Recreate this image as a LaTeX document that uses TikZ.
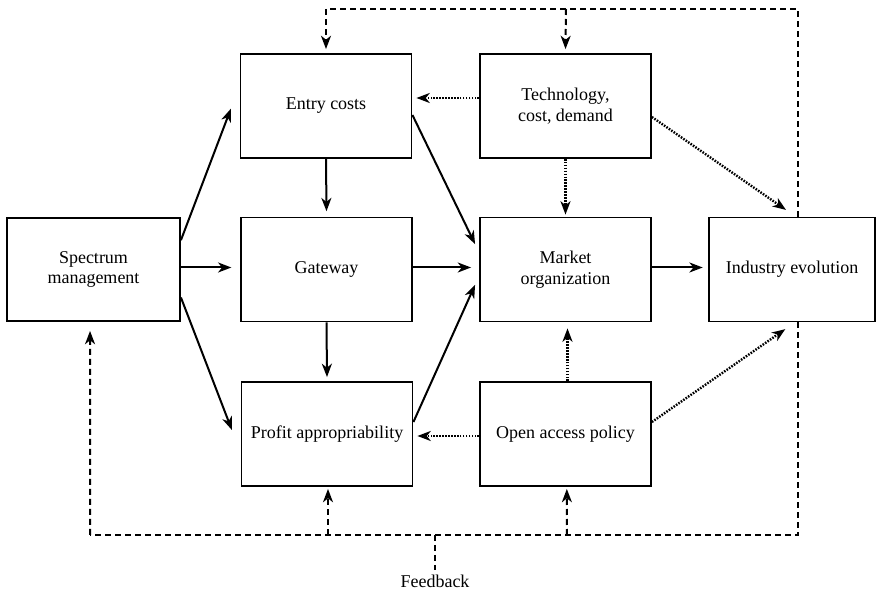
\documentclass[tikz,border=0pt]{standalone}
\usepackage{fontspec}
\setmainfont{Liberation Serif}
\usetikzlibrary{arrows.meta}
\begin{document}
\begin{tikzpicture}[x=0.75pt,y=-0.75pt,
  >={Stealth[length=10pt,width=7.5pt,inset=3pt]},
  box/.style={draw, line width=1.4pt, rectangle, inner sep=0pt, align=center,
    minimum width=128.25pt, minimum height=78pt,
    font=\fontsize{13.5}{15.5}\selectfont},
  link/.style={->, line width=1.5pt},
  dotlink/.style={->, line width=1.8pt, dash pattern=on 1.2pt off 1pt},
  fb/.style={line width=1.5pt, dash pattern=on 4.5pt off 3pt},
  lbl/.style={font=\fontsize{13.5}{15.5}\selectfont}]
\useasboundingbox (0,0) rectangle (876,595);

% boxes
\node[box, minimum width=129.75pt, minimum height=77.25pt] (spec) at (93.5,269.5) {Spectrum\\management};
\node[box] (entry) at (326,106) {Entry costs};
\node[box] (tech) at (565.5,106) {Technology,\\cost, demand};
\node[box] (gate) at (326.5,269.5) {Gateway};
\node[box] (market) at (565.5,269.5) {Market\\organization};
\node[box, minimum width=124.5pt] (ind) at (792,269.5) {Industry evolution};
\node[box] (profit) at (327,434) {Profit appropriability};
\node[box] (open) at (565.5,434) {Open access policy};

% direct effects
\draw[link] ([yshift=22pt]spec.east) -- ([xshift=-6.5pt,yshift=-2pt]entry.west);
\draw[link] ([yshift=1.5pt]spec.east) -- ([xshift=-6.5pt,yshift=1.5pt]gate.west);
\draw[link] ([yshift=-21pt]spec.east) -- ([xshift=-6.5pt,yshift=3pt]profit.west);
\draw[link] (entry.south) -- ([yshift=4pt]gate.north);
\draw[link] (gate.south) -- ([yshift=3pt]profit.north);
\draw[link] ([yshift=-6.75pt]entry.east) -- ([xshift=-3pt,yshift=19pt]market.west);
\draw[link] ([yshift=1.5pt]gate.east) -- ([xshift=-6pt,yshift=1.5pt]market.west);
\draw[link] ([yshift=9pt]profit.east) -- ([xshift=-3pt,yshift=-11.5pt]market.west);
\draw[link] ([yshift=1.5pt]market.east) -- ([xshift=-4pt,yshift=1.5pt]ind.west);

% exogenous influences
\draw[dotlink] ([yshift=6pt]tech.west) -- ([xshift=3pt,yshift=6pt]entry.east);
\draw[dotlink] (tech.south) -- ([yshift=1.5pt]market.north);
\draw[dotlink] ([yshift=-8.25pt]tech.east) -- ([xshift=-4.5pt,yshift=5pt]ind.north);
\draw[dotlink] ([yshift=-1.5pt]open.west) -- ([xshift=3pt,yshift=-1.5pt]profit.east);
\draw[dotlink] ([xshift=1.5pt]open.north) -- ([xshift=1.5pt,yshift=-4.5pt]market.south);
\draw[dotlink] ([yshift=9pt]open.east) -- ([xshift=-5pt,yshift=-5pt]ind.south);

% feedback loops
\coordinate (topR) at (798,9);
\coordinate (topL) at (326,9);
\coordinate (topM) at (566,9);
\coordinate (botR) at (798,535);
\coordinate (botL) at (90,535);
\coordinate (botA) at (328,535);
\coordinate (botB) at (567,535);
\coordinate (botF) at (435,535);
\coordinate (fbEnd) at (435,570);

\draw[fb] ([xshift=4.5pt]ind.north) -- (topR) -- (topL);
\draw[fb,->] (topL) -- ([yshift=3pt]entry.north);
\draw[fb,->] (topM) -- ([yshift=3pt]tech.north);
\draw[fb] ([xshift=4.5pt]ind.south) -- (botR) -- (botL);
\draw[fb,->] (botL) -- ([xshift=-2.6pt,yshift=-6.75pt]spec.south);
\draw[fb,->] (botA) -- ([xshift=0.75pt,yshift=-1.5pt]profit.south);
\draw[fb,->] (botB) -- ([xshift=1pt,yshift=-1.5pt]open.south);
\draw[fb] (botF) -- (fbEnd);
\node[lbl, anchor=north] (fbl) at (435,570) {Feedback};
\end{tikzpicture}
\end{document}
